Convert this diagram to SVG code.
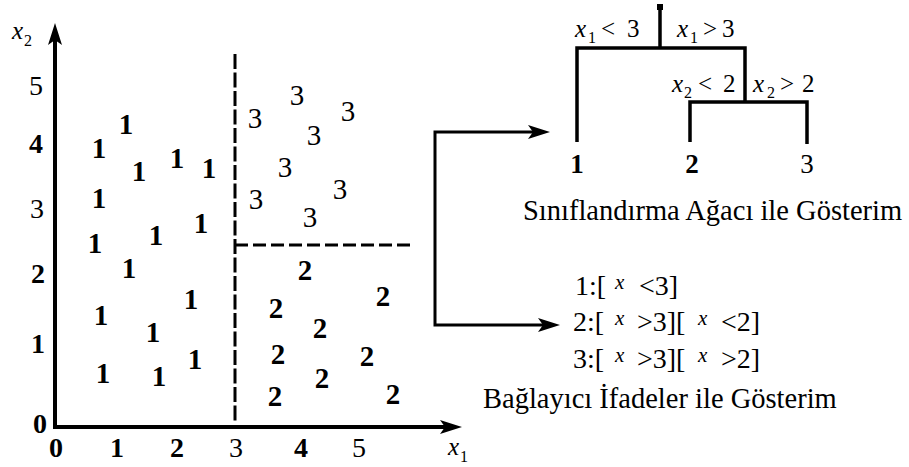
<svg xmlns="http://www.w3.org/2000/svg" width="909" height="467" viewBox="0 0 909 467" font-family="Liberation Serif">
<defs>
<marker id="ah" markerUnits="userSpaceOnUse" markerWidth="24" markerHeight="18" viewBox="0 -9 24 18" refX="5" refY="0" orient="auto">
<path d="M0,-7 L22,0 L0,7 L5,0 Z" fill="#000"/>
</marker>
</defs>
<rect width="909" height="467" fill="#fff"/>

<g id="axes" fill="none" stroke="#000" stroke-width="4">
<path d="M55,429 L55,40" marker-end="url(#ah)"/>
<path d="M53,427 L445,427" marker-end="url(#ah)"/>
</g>
<g id="axis-labels" font-family="Liberation Serif" fill="#000">
<text x="12" y="39" font-style="italic" font-size="25">x</text>
<text x="24" y="46" font-size="16">2</text>
<text x="448" y="455" font-style="italic" font-size="25">x</text>
<text x="460" y="462" font-size="16">1</text>
<g font-size="28" text-anchor="middle">
<text x="36" y="95">5</text>
<text x="36" y="153" font-weight="bold">4</text>
<text x="37" y="218">3</text>
<text x="38" y="283" font-weight="bold">2</text>
<text x="38" y="353" font-weight="bold">1</text>
<text x="40" y="433" font-weight="bold">0</text>
<text x="56" y="457" font-weight="bold">0</text>
<text x="117" y="457" font-weight="bold">1</text>
<text x="177" y="457" font-weight="bold">2</text>
<text x="236" y="457">3</text>
<text x="301" y="457" font-weight="bold">4</text>
<text x="359" y="457">5</text>
</g>
</g>

<g id="splits" fill="none" stroke="#000" stroke-width="3">
<path d="M235,54 L235,423" stroke-dasharray="15 3.5"/>
<path d="M235,245 L414,245" stroke-dasharray="13 5"/>
</g>

<g id="class1-points" font-family="Liberation Serif" font-size="29" font-weight="bold" text-anchor="middle">
<text x="126" y="134">1</text>
<text x="99" y="158">1</text>
<text x="139" y="181">1</text>
<text x="177" y="168">1</text>
<text x="209" y="178">1</text>
<text x="99" y="208">1</text>
<text x="201" y="233">1</text>
<text x="156" y="245">1</text>
<text x="95" y="253">1</text>
<text x="129" y="278">1</text>
<text x="191" y="309">1</text>
<text x="101" y="325">1</text>
<text x="153" y="342">1</text>
<text x="195" y="369">1</text>
<text x="103" y="383">1</text>
<text x="159" y="386">1</text>
</g>

<g id="class3-points" font-family="Liberation Serif" font-size="29" text-anchor="middle">
<text x="297" y="105">3</text>
<text x="255" y="128">3</text>
<text x="348" y="121">3</text>
<text x="314" y="145">3</text>
<text x="285" y="177">3</text>
<text x="256" y="209">3</text>
<text x="340" y="199">3</text>
<text x="310" y="227">3</text>
</g>

<g id="class2-points" font-family="Liberation Serif" font-size="29" font-weight="bold" text-anchor="middle">
<text x="305" y="280">2</text>
<text x="276" y="318">2</text>
<text x="383" y="306">2</text>
<text x="320" y="338">2</text>
<text x="278" y="364">2</text>
<text x="367" y="366">2</text>
<text x="322" y="388">2</text>
<text x="275" y="406">2</text>
<text x="393" y="404">2</text>
</g>

<g id="connectors" fill="none" stroke="#000" stroke-width="3">
<path d="M435,228 L435,132 L533,132" marker-end="url(#ah)"/>
<path d="M435,228 L435,325 L543,325" marker-end="url(#ah)"/>
</g>

<g id="tree">
<rect x="657" y="4" width="6" height="6" fill="#000"/>
<g fill="none" stroke="#000" stroke-width="3.5">
<path d="M660,6 L660,48"/>
<path d="M577,142 L577,48 L745,48 L745,102"/>
<path d="M690,142 L690,102 L807,102 L807,144"/>
</g>
<g font-family="Liberation Serif" font-size="25" fill="#000">
<text><tspan x="575" y="37" font-style="italic">x</tspan><tspan x="588" y="43" font-size="16">1</tspan><tspan x="601" y="37">&lt;</tspan><tspan x="627" y="37">3</tspan></text>
<text><tspan x="677" y="37" font-style="italic">x</tspan><tspan x="690" y="43" font-size="16">1</tspan><tspan x="703" y="37">&gt;</tspan><tspan x="722" y="37">3</tspan></text>
<text><tspan x="672" y="92" font-style="italic">x</tspan><tspan x="684" y="98" font-size="16">2</tspan><tspan x="698" y="92">&lt;</tspan><tspan x="723" y="92">2</tspan></text>
<text><tspan x="753" y="92" font-style="italic">x</tspan><tspan x="767" y="98" font-size="16">2</tspan><tspan x="780" y="92">&gt;</tspan><tspan x="802" y="92">2</tspan></text>
</g>
</g>

<g id="leaf-1" font-family="Liberation Serif" font-size="27" text-anchor="middle"><text x="577" y="173" font-weight="bold">1</text></g>
<g id="leaf-2" font-family="Liberation Serif" font-size="27" text-anchor="middle"><text x="692" y="173" font-weight="bold">2</text></g>
<g id="leaf-3" font-family="Liberation Serif" font-size="27" text-anchor="middle"><text x="807" y="173">3</text></g>

<g id="tree-caption" font-family="Liberation Serif" font-size="28.5"><text x="523" y="220">Sınıflandırma Ağacı ile Gösterim</text></g>

<g id="rules" font-family="Liberation Serif" font-size="28">
<text><tspan x="575" y="295">1:[</tspan><tspan x="615" y="289" font-size="21" font-style="italic">x</tspan><tspan x="639" y="295">&lt;3]</tspan></text>
<text><tspan x="573" y="331">2:[</tspan><tspan x="615" y="325" font-size="21" font-style="italic">x</tspan><tspan x="637" y="331">&gt;3][</tspan><tspan x="698" y="325" font-size="21" font-style="italic">x</tspan><tspan x="721" y="331">&lt;2]</tspan></text>
<text><tspan x="573" y="368">3:[</tspan><tspan x="615" y="362" font-size="21" font-style="italic">x</tspan><tspan x="637" y="368">&gt;3][</tspan><tspan x="698" y="362" font-size="21" font-style="italic">x</tspan><tspan x="721" y="368">&gt;2]</tspan></text>
</g>

<g id="rules-caption" font-family="Liberation Serif" font-size="28.5"><text x="483" y="408">Bağlayıcı İfadeler ile Gösterim</text></g>
</svg>
